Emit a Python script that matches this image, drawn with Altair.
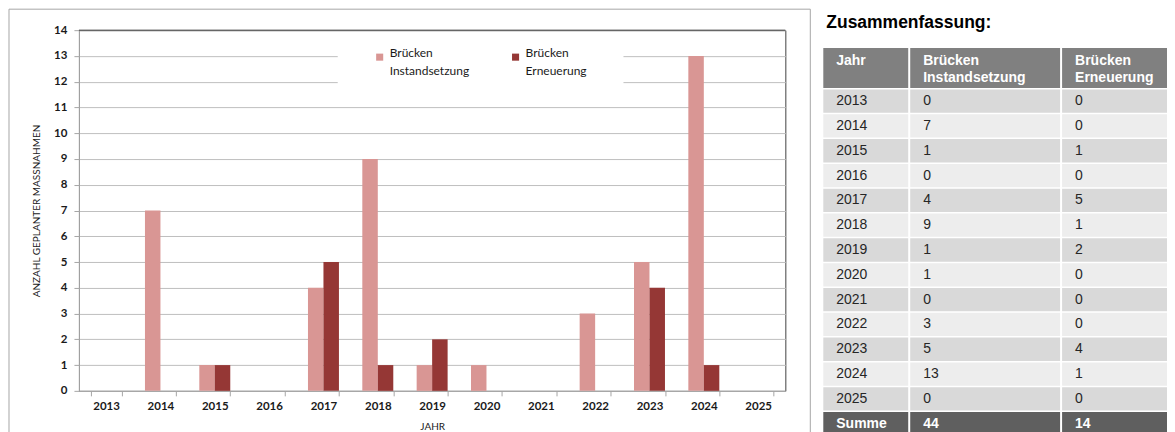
import altair as alt
import pandas as pd

# ---------------- data ----------------
years = [2013, 2014, 2015, 2016, 2017, 2018, 2019, 2020, 2021, 2022, 2023, 2024, 2025]
instandsetzung = [0, 7, 1, 0, 4, 9, 1, 1, 0, 3, 5, 13, 0]
erneuerung = [0, 0, 1, 0, 5, 1, 2, 0, 0, 0, 4, 1, 0]
series = ["Brücken Instandsetzung", "Brücken Erneuerung"]
series_colors = ["#D99694", "#953735"]
y_ticks = list(range(0, 15))
table_header = [["Jahr"], ["Brücken", "Instandsetzung"], ["Brücken", "Erneuerung"]]
sum_label = "Summe"
table_title = "Zusammenfassung:"

year_labels = [str(y) for y in years]

# ---------------- left: bar chart ----------------
PW, PH = 707, 361
CHART_FONT = "Lato"

bar_rows = []
for y, a, b in zip(year_labels, instandsetzung, erneuerung):
    bar_rows.append({"Jahr": y, "Serie": series[0], "Anzahl": a})
    bar_rows.append({"Jahr": y, "Serie": series[1], "Anzahl": b})
bar_df = pd.DataFrame(bar_rows)

one = alt.Data(values=[{"k": 1}])

frame = alt.Chart(one).mark_rect(fillOpacity=0, stroke="#a6a6a6", strokeWidth=1).encode(
    x=alt.value(-70), x2=alt.value(PW + 25), y=alt.value(-21), y2=alt.value(PH + 50)
)

legend_box = alt.Chart(one).mark_rect(fill="white").encode(
    x=alt.value(259), x2=alt.value(545), y=alt.value(10), y2=alt.value(58)
)

bars = alt.Chart(bar_df).mark_bar().encode(
    x=alt.X(
        "Jahr:N",
        sort=year_labels,
        scale=alt.Scale(paddingInner=0.43, paddingOuter=0.215),
        axis=alt.Axis(
            title="JAHR",
            labelAngle=0,
            tickBand="extent",
            tickSize=5,
            tickColor="#a6a6a6",
            domainColor="#a6a6a6",
            labelFont=CHART_FONT,
            labelFontWeight="bold",
            labelFontSize=11.5,
            labelColor="#1a1a1a",
            labelPadding=5,
            titleFont=CHART_FONT,
            titleFontSize=10,
            titleFontWeight="normal",
            titleColor="#1a1a1a",
            titlePadding=9,
            grid=False,
        ),
    ),
    xOffset=alt.XOffset("Serie:N", sort=series, scale=alt.Scale(paddingInner=0, paddingOuter=0)),
    y=alt.Y(
        "Anzahl:Q",
        scale=alt.Scale(domain=[0, 14], nice=False),
        axis=alt.Axis(
            title="ANZAHL GEPLANTER MASSNAHMEN",
            values=y_ticks,
            tickCount=30,
            format="d",
            labelOverlap=False,
            grid=True,
            gridColor="#bfbfbf",
            gridWidth=1,
            domainColor="#a6a6a6",
            tickColor="#a6a6a6",
            tickSize=5,
            labelFont=CHART_FONT,
            labelFontWeight="bold",
            labelFontSize=11.5,
            labelColor="#1a1a1a",
            labelPadding=7,
            titleFont=CHART_FONT,
            titleFontSize=10,
            titleFontWeight="normal",
            titleColor="#1a1a1a",
            titlePadding=12,
        ),
    ),
    color=alt.Color(
        "Serie:N",
        sort=series,
        scale=alt.Scale(domain=series, range=series_colors),
        legend=alt.Legend(
            title=None,
            orient="none",
            legendX=295,
            legendY=21,
            direction="horizontal",
            columns=2,
            columnPadding=40,
            symbolType="square",
            symbolSize=50,
            symbolStrokeWidth=0,
            labelFont=CHART_FONT,
            labelFontSize=12,
            labelColor="#1a1a1a",
            labelExpr="split(datum.label, ' ')",
            labelBaseline="alphabetic",
            labelOffset=4,
            padding=0,
        ),
    ),
)

top_rule = alt.Chart(one).mark_rule(color="#404040", strokeWidth=1).encode(
    x=alt.value(0), x2=alt.value(PW), y=alt.value(0)
)

left = alt.layer(frame, legend_box, bars, top_rule).properties(
    width=PW, height=PH, view=alt.ViewBackground(stroke="#404040", strokeWidth=1)
)

# ---------------- right: summary table ----------------
TW = 344
COL_EDGES = [(0, 85), (87, 237), (239, 344)]
TEXT_PAD = 13
TOP_U = 0.72
HEADER_U = 1.61
BODY_START = 1.67
ROW_FILL = 0.94
TOTAL_U = TOP_U + 15.67
TH = 407
FILLS = {"head": "#808080", "a": "#d9d9d9", "b": "#ededed", "sum": "#5f5f5f"}

col1 = year_labels + [sum_label]
col2 = [str(v) for v in instandsetzung] + [str(sum(instandsetzung))]
col3 = [str(v) for v in erneuerung] + [str(sum(erneuerung))]
columns = [col1, col2, col3]

cells = []
texts = []
for c, (x0, x1) in enumerate(COL_EDGES):
    cells.append({"x0": x0, "x1": x1, "y0": TOP_U, "y1": TOP_U + HEADER_U, "fill": FILLS["head"]})
    for li, line in enumerate(table_header[c]):
        texts.append({"tx": x0 + TEXT_PAD, "ty": TOP_U + 0.53 + 0.69 * li, "t": line, "style": "strong"})
    for r, val in enumerate(columns[c]):
        y0 = TOP_U + BODY_START + r
        if r == len(columns[c]) - 1:
            kind = "sum"
        else:
            kind = "a" if r % 2 == 0 else "b"
        cells.append({"x0": x0, "x1": x1, "y0": y0, "y1": y0 + ROW_FILL, "fill": FILLS[kind]})
        texts.append({
            "tx": x0 + TEXT_PAD,
            "ty": y0 + ROW_FILL / 2,
            "t": val,
            "style": "strong" if kind == "sum" else "plain",
        })

cells_df = pd.DataFrame(cells)
texts_df = pd.DataFrame(texts)

xs = alt.Scale(domain=[0, TW], nice=False, zero=False)
ys = alt.Scale(domain=[0, TOTAL_U], nice=False, zero=False, reverse=True)

cell_layer = alt.Chart(cells_df).mark_rect().encode(
    x=alt.X("x0:Q", scale=xs, axis=None),
    x2="x1:Q",
    y=alt.Y("y0:Q", scale=ys, axis=None),
    y2="y1:Q",
    fill=alt.Fill("fill:N", scale=None, legend=None),
)

plain_text = alt.Chart(texts_df).transform_filter(alt.datum.style == "plain").mark_text(
    align="left", baseline="middle", font="Liberation Sans", fontSize=14, color="#262626"
).encode(x=alt.X("tx:Q", scale=xs, axis=None), y=alt.Y("ty:Q", scale=ys, axis=None), text="t:N")

strong_text = alt.Chart(texts_df).transform_filter(alt.datum.style == "strong").mark_text(
    align="left", baseline="middle", font="Liberation Sans", fontSize=14, fontWeight="bold", color="white"
).encode(x=alt.X("tx:Q", scale=xs, axis=None), y=alt.Y("ty:Q", scale=ys, axis=None), text="t:N")

title_text = alt.Chart(one).mark_text(
    align="left", baseline="middle", font="Liberation Sans", fontSize=17.5, fontWeight="bold", color="black"
).encode(x=alt.value(3), y=alt.value(-7), text=alt.value(table_title))

right = alt.layer(cell_layer, plain_text, strong_text, title_text).properties(
    width=TW, height=TH, view=alt.ViewBackground(stroke="transparent", strokeWidth=0)
)

chart = (
    alt.hconcat(left, right, spacing=12)
    .properties(padding=0, background="white")
    .configure_view(stroke="transparent")
    .configure(style={"guide-label": {"lineHeight": 18}})
)

chart.save("out.html", embed_options={"renderer": "svg", "actions": False})
